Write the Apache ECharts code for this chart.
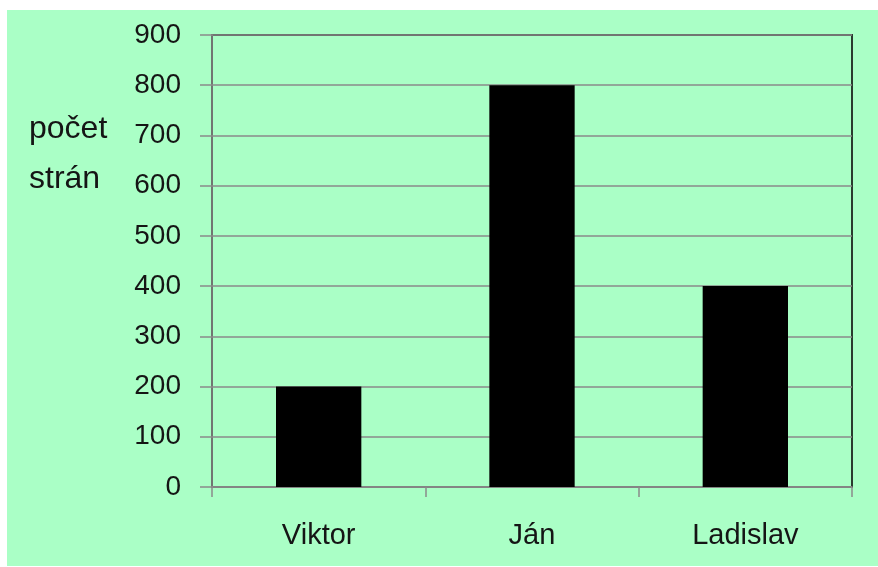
<!DOCTYPE html>
<html>
<head>
<meta charset="utf-8">
<script src="https://cdn.jsdelivr.net/npm/echarts@6/dist/echarts.min.js"></script>
<style>html,body{margin:0;padding:0;background:#fff}#c{width:878px;height:567px}</style>
</head>
<body>
<div id="c"></div>
<script>
const categories = ['Viktor', 'Ján', 'Ladislav'];
const pages = [200, 800, 400];
const axisTitle = 'počet\nstrán';

const chart = echarts.init(document.getElementById('c'), null, {renderer: 'canvas'});
chart.setOption({
  backgroundColor: '#ffffff',
  animation: false,
  graphic: [{
    type: 'rect', z: -10, silent: true,
    shape: {x: 7, y: 10, width: 871, height: 556},
    style: {fill: '#aaffc6'}
  }],
  title: {
    text: axisTitle, left: 29, top: 104, padding: 0,
    textStyle: {fontFamily: 'Liberation Sans', fontSize: 32, fontWeight: 'normal', color: '#151515', lineHeight: 50}
  },
  grid: {
    left: 212, top: 35, right: 26, bottom: 80,
    show: true, borderColor: '#2a3a2f', borderWidth: 2, backgroundColor: 'transparent'
  },
  xAxis: {
    type: 'category', data: categories, boundaryGap: true,
    axisLine: {lineStyle: {color: '#8a8a8a', width: 1.5}},
    axisTick: {show: true, alignWithLabel: false, interval: 0, length: 10, lineStyle: {color: '#8a8a8a', width: 1.5}},
    axisLabel: {margin: 34, fontFamily: 'Liberation Sans', fontSize: 29, color: '#151515'}
  },
  yAxis: {
    type: 'value', min: 0, max: 900, interval: 100,
    axisLine: {show: true, lineStyle: {color: '#8a8a8a', width: 1.5}},
    axisTick: {show: true, length: 12, lineStyle: {color: '#8a8a8a', width: 1.5}},
    axisLabel: {margin: 31, fontFamily: 'Liberation Sans', fontSize: 28, color: '#151515'},
    splitLine: {show: true, lineStyle: {color: '#8a8a8a', width: 1.5}}
  },
  series: [{
    type: 'bar', data: pages, barWidth: '40%',
    itemStyle: {color: '#000000'}
  }]
});
</script>
</body>
</html>
